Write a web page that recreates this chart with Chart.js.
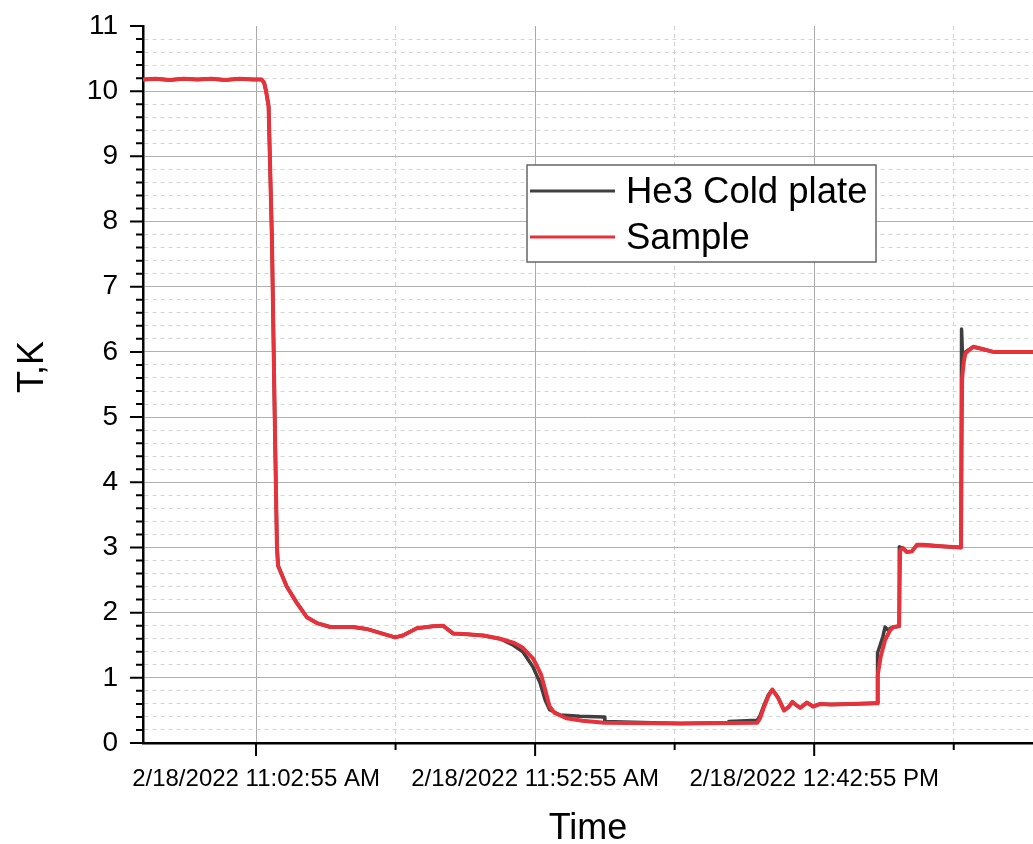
<!DOCTYPE html>
<html>
<head>
<meta charset="utf-8">
<script src="https://cdn.jsdelivr.net/npm/chart.js@4"></script>
<style>
  html, body { margin: 0; background: #fff; }
</style>
</head>
<body>
<canvas id="tempChart" width="1033" height="844"></canvas>
<script>
// time axis: minutes relative to 2/18/2022 11:02:55 AM
const X_MIN = -20.25;
const X_MAX = 139.2;
const xTickMinutes = [0, 25, 50, 75, 100, 125];
const xTickLabels = ['2/18/2022 11:02:55 AM', '', '2/18/2022 11:52:55 AM', '', '2/18/2022 12:42:55 PM', ''];

// He3 cold plate (dark grey)
const plateMin = [-20.25, -18, -15.5, -13, -10.5, -8, -5.5, -3, -0.5, 1.0, 1.45, 1.8, 2.25, 2.85, 3.35, 3.75, 3.95,
  5.5, 7.3, 9.1, 10.9, 13.3, 17.4, 19.8, 22.2, 24.9, 26.3, 28.8, 31.7, 33.5, 35.3, 37.8, 40.7, 43.7,
  46.1, 47.8, 49.6, 50.9, 51.8, 52.6, 54.5, 58.0, 62.4, 62.5, 76, 84.6, 84.7, 89.8, 90.3, 91.0, 91.8,
  92.5, 93.5, 94.6, 95.4, 96.1, 96.8, 97.5, 98.7, 99.8, 101.1, 103, 106.5, 110.9, 111.3, 111.35,
  112.3, 112.7, 113.2, 113.6, 114.2, 115.2, 115.25, 115.9, 116.6, 117.5, 118.4, 119.5, 122.6, 126.3,
  126.4, 126.6, 127.1, 128.5, 130.3, 132.1, 139.2];
const plateK = [10.18, 10.19, 10.17, 10.19, 10.18, 10.19, 10.17, 10.19, 10.18, 10.18, 10.13, 10.00, 9.77, 7.73, 5.00, 3.00, 2.72,
  2.40, 2.15, 1.93, 1.84, 1.78, 1.78, 1.75, 1.69, 1.62, 1.65, 1.76, 1.79, 1.80, 1.68, 1.67, 1.65, 1.60,
  1.50, 1.40, 1.17, 0.92, 0.66, 0.51, 0.43, 0.41, 0.40, 0.33, 0.30, 0.31, 0.33, 0.35, 0.42, 0.58, 0.74,
  0.82, 0.70, 0.50, 0.55, 0.63, 0.58, 0.54, 0.62, 0.56, 0.60, 0.59, 0.60, 0.61, 0.61, 1.38,
  1.63, 1.78, 1.73, 1.76, 1.78, 1.79, 3.01, 2.99, 2.93, 2.94, 3.04, 3.04, 3.02, 3.00,
  6.35, 5.88, 6.00, 6.08, 6.04, 6.00, 6.00];

// Sample (red)
const sampleMin = [-20.25, -18, -15.5, -13, -10.5, -8, -5.5, -3, -0.5, 1.0, 1.45, 1.8, 2.25, 2.85, 3.35, 3.75, 3.95,
  5.5, 7.3, 9.1, 10.9, 13.3, 17.4, 19.8, 22.2, 24.9, 26.3, 28.8, 31.7, 33.5, 35.3, 37.8, 40.7, 43.7,
  46.1, 47.8, 49.6, 50.4, 51.1, 52.0, 52.6, 53.5, 55.6, 58.5, 62.4, 76, 89.8, 90.3, 91.0, 91.8,
  92.5, 93.5, 94.6, 95.4, 96.1, 96.8, 97.5, 98.7, 99.8, 101.1, 103, 106.5, 110.9, 111.3, 111.4,
  111.9, 112.7, 113.6, 114.2, 115.2, 115.4, 115.9, 116.6, 117.5, 118.4, 119.5, 122.6, 126.3,
  126.5, 126.8, 127.1, 128.5, 130.3, 132.1, 139.2];
const sampleK = [10.18, 10.19, 10.17, 10.19, 10.18, 10.19, 10.17, 10.19, 10.18, 10.18, 10.13, 10.00, 9.77, 7.73, 5.00, 3.00, 2.72,
  2.40, 2.15, 1.93, 1.84, 1.78, 1.78, 1.75, 1.69, 1.62, 1.65, 1.76, 1.79, 1.80, 1.68, 1.67, 1.65, 1.60,
  1.54, 1.46, 1.30, 1.17, 1.04, 0.75, 0.56, 0.46, 0.38, 0.34, 0.31, 0.30, 0.31, 0.38, 0.55, 0.72,
  0.82, 0.70, 0.50, 0.55, 0.63, 0.58, 0.54, 0.62, 0.56, 0.60, 0.59, 0.60, 0.61, 0.61, 1.05,
  1.32, 1.58, 1.73, 1.78, 1.79, 2.96, 2.99, 2.93, 2.94, 3.04, 3.04, 3.02, 3.00,
  5.60, 5.85, 5.98, 6.08, 6.04, 6.00, 6.00];

const Y_MAX = 11;
const yTickValues = [];
for (let i = 0; i <= Y_MAX * 5; i++) yTickValues.push(i / 5);

const FONT = "'Liberation Sans', Arial, sans-serif";
Chart.defaults.font.family = FONT;
Chart.defaults.color = '#000';

function toPoints(xs, ys) {
  return xs.map((x, i) => ({ x: x, y: ys[i] }));
}

// tick marks, y title and the boxed legend
const axisExtras = {
  id: 'axisExtras',
  afterDraw(chart) {
    const ctx = chart.ctx;
    const area = chart.chartArea;
    const x = chart.scales.x;
    const y = chart.scales.y;

    ctx.save();
    ctx.strokeStyle = '#000';
    ctx.lineWidth = 2;
    ctx.beginPath();
    y.ticks.forEach((t, i) => {
      const py = y.getPixelForValue(t.value);
      const len = i % 5 === 0 ? 13 : 7;
      ctx.moveTo(area.left - len, py);
      ctx.lineTo(area.left, py);
    });
    x.ticks.forEach((t, i) => {
      const px = x.getPixelForValue(t.value);
      const len = i % 2 === 0 ? 13 : 7;
      ctx.moveTo(px, area.bottom);
      ctx.lineTo(px, area.bottom + len);
    });
    ctx.stroke();

    // y axis title
    ctx.fillStyle = '#000';
    ctx.font = '36px ' + FONT;
    ctx.textAlign = 'center';
    ctx.textBaseline = 'middle';
    ctx.translate(33, area.top + 341);
    ctx.rotate(-Math.PI / 2);
    ctx.fillText('T,K', 0, 0);
    ctx.restore();

    // legend
    const bx = area.left + 384, by = area.top + 139, bw = 349, bh = 97;
    ctx.save();
    ctx.fillStyle = '#fff';
    ctx.fillRect(bx, by, bw, bh);
    ctx.strokeStyle = '#666';
    ctx.lineWidth = 1.5;
    ctx.strokeRect(bx, by, bw, bh);
    ctx.font = '36.5px ' + FONT;
    ctx.textAlign = 'left';
    ctx.textBaseline = 'alphabetic';
    chart.data.datasets.forEach((ds, i) => {
      const ly = by + 26 + i * 46;
      ctx.strokeStyle = ds.borderColor;
      ctx.lineWidth = 3;
      ctx.beginPath();
      ctx.moveTo(bx + 3, ly);
      ctx.lineTo(bx + 88, ly);
      ctx.stroke();
      ctx.fillStyle = '#000';
      ctx.fillText(ds.label, bx + 99, ly + 12);
    });
    ctx.restore();
  }
};

new Chart(document.getElementById('tempChart'), {
  type: 'line',
  data: {
    datasets: [
      {
        label: 'He3 Cold plate',
        data: toPoints(plateMin, plateK),
        borderColor: '#3f3f3f',
        borderWidth: 3.5,
        order: 1
      },
      {
        label: 'Sample',
        data: toPoints(sampleMin, sampleK),
        borderColor: '#e5323b',
        borderWidth: 4,
        order: 0
      }
    ]
  },
  options: {
    responsive: false,
    animation: false,
    layout: { padding: { top: 26, right: 0, bottom: 0, left: 0 } },
    elements: {
      point: { radius: 0 },
      line: { tension: 0, borderJoinStyle: 'round', borderCapStyle: 'round' }
    },
    plugins: {
      legend: { display: false },
      tooltip: { enabled: false }
    },
    scales: {
      x: {
        type: 'linear',
        min: X_MIN,
        max: X_MAX,
        afterBuildTicks: scale => { scale.ticks = xTickMinutes.map(v => ({ value: v })); },
        afterFit: scale => { scale.height = 101; scale.paddingLeft = 0; scale.paddingRight = 0; },
        ticks: {
          autoSkip: false,
          maxRotation: 0,
          padding: 22,
          font: { size: 24 },
          callback: (v, i) => xTickLabels[i]
        },
        grid: {
          drawTicks: false,
          lineWidth: 1,
          color: c => c.index % 2 === 0 ? '#a9a9a9' : '#cfcfcf'
        },
        border: { color: '#000', width: 2.5, dash: c => c.index % 2 === 0 ? [] : [4, 4] },
        title: {
          display: true,
          text: 'Time',
          font: { size: 36, lineHeight: 1 },
          padding: { top: 0, bottom: -3 }
        }
      },
      y: {
        min: 0,
        max: Y_MAX,
        afterBuildTicks: scale => { scale.ticks = yTickValues.map(v => ({ value: v })); },
        afterFit: scale => { scale.width = 143; scale.paddingTop = 0; scale.paddingBottom = 0; },
        ticks: {
          autoSkip: false,
          padding: 25,
          font: { size: 28 },
          callback: (v, i) => i % 5 === 0 ? String(i / 5) : ''
        },
        grid: {
          drawTicks: false,
          lineWidth: 1,
          color: c => c.index === Y_MAX * 5 ? 'rgba(0,0,0,0)' : (c.index % 5 === 0 ? '#b0b0b0' : '#d4d4d4')
        },
        border: { color: '#000', width: 2.5, dash: c => c.index % 5 === 0 ? [] : [4, 4] }
      }
    }
  },
  plugins: [axisExtras]
});
</script>
</body>
</html>
